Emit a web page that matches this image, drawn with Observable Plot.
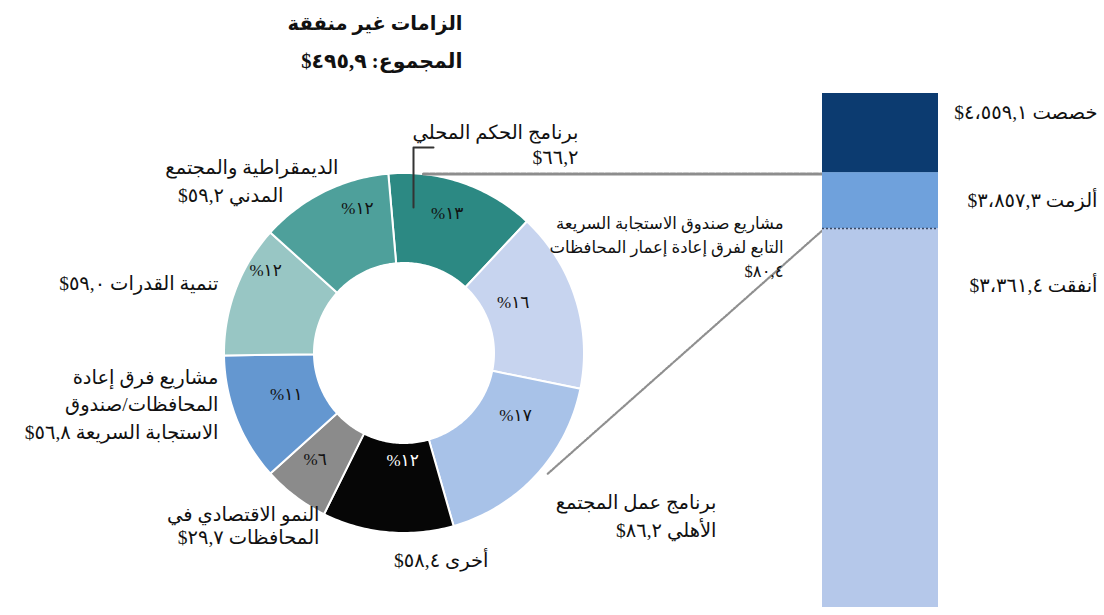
<!DOCTYPE html>
<html><head><meta charset="utf-8">
<script src="https://cdn.jsdelivr.net/npm/d3@7"></script>
<script src="https://cdn.jsdelivr.net/npm/@observablehq/plot@0.6"></script>
<style>
body{margin:0;background:#fff;}
#wrap{position:relative;width:1104px;height:615px;overflow:hidden;background:#fff;}
#wrap svg{position:absolute;left:0;top:0;}
</style></head><body><div id="wrap"></div>
<script>
// ---------- DATA ----------
const titleText = "الزامات غير منفقة";
const totalText = "المجموع:";
const categories = [
  "برنامج الحكم المحلي",
  "مشاريع صندوق الاستجابة السريعة\nالتابع لفرق إعادة إعمار المحافظات",
  "برنامج عمل المجتمع\nالأهلي",
  "أخرى",
  "النمو الاقتصادي في\nالمحافظات",
  "مشاريع فرق إعادة\nالمحافظات/صندوق\nالاستجابة السريعة",
  "تنمية القدرات",
  "الديمقراطية والمجتمع\nالمدني"
];
const values = [66.2, 80.4, 86.2, 58.4, 29.7, 56.8, 59.0, 59.2];
const stages = ["خصصت", "ألزمت", "أنفقت"];
const stageValues = [4559.1, 3857.3, 3361.4];

// ---------- STYLE / LAYOUT ----------
const W = 1104, H = 615;
const FONT = "'Liberation Serif', 'DejaVu Sans', serif";
const sliceColors = ["#2c8983", "#c7d4ef", "#a8c2e8", "#060606", "#8b8b8b", "#6497d0", "#98c6c4", "#4ea09b"];
const pctColors = ["#111", "#111", "#111", "#fff", "#111", "#111", "#111", "#111"];
const barColors = ["#b5c8ea", "#6fa1dc", "#0c3b70"];
const donut = {cx: 404, cy: 353, R: 180, r: 90, start: -5};
// each label: separator before the value, font size, and [rightEdgeX, centerY] for each line
const labelLayout = [
  {sep: "\n", size: 19.5, lines: [[578, 132], [578, 157]]},
  {sep: "\n", size: 16.5, lines: [[783, 223], [783, 247], [783, 271]]},
  {sep: " ",  size: 19.5, lines: [[716, 502], [716, 530]]},
  {sep: " ",  size: 19.5, lines: [[488, 560]]},
  {sep: " ",  size: 19.5, lines: [[319, 514], [319, 537]]},
  {sep: " ",  size: 19.5, lines: [[218, 377], [218, 404], [218, 432]]},
  {sep: " ",  size: 19.5, lines: [[218, 283]]},
  {sep: " ",  size: 19.5, lines: [[338, 167], [283, 195]]}
];
const pctLayout = [[17,146],[65,120],[119,127],[181,107],[220,139],[251,125],[301,162],[342,152]];
const leader = [[413,207],[413,147],[433,147]];

// ---------- HELPERS ----------
const AR = "٠١٢٣٤٥٦٧٨٩";
function arNum(n, dec = 1) {
  const s = n.toFixed(dec);
  let [i, d] = s.split(".");
  i = i.replace(/\B(?=(\d{3})+(?!\d))/g, "،");
  const out = d !== undefined ? i + "," + d : i;
  return out.replace(/\d/g, c => AR[+c]);
}
const rad = a => a * Math.PI / 180;

// ---------- DONUT GEOMETRY ----------
const total = d3.sum(values);
let acc = 0;
const slices = values.map((v, i) => {
  const a0 = donut.start + acc / total * 360; acc += v;
  const a1 = donut.start + acc / total * 360;
  return {i, v, a0, a1, pct: Math.round(v / total * 100)};
});
const arcPts = slices.flatMap(s => {
  const n = Math.max(2, Math.ceil(s.a1 - s.a0));
  return d3.range(n + 1).map(k => {
    const a = rad(s.a0 + (s.a1 - s.a0) * k / n);
    return {i: s.i,
      xo: donut.cx + donut.R * Math.sin(a), yo: donut.cy - donut.R * Math.cos(a),
      xi: donut.cx + donut.r * Math.sin(a), yi: donut.cy - donut.r * Math.cos(a)};
  });
});
const pctPts = slices.map(s => {
  const [a, rr] = pctLayout[s.i];
  return {x: donut.cx + rr * Math.sin(rad(a)), y: donut.cy - rr * Math.cos(rad(a)),
          t: arNum(s.pct, 0) + "%", c: pctColors[s.i]};
});
const labelLines = slices.flatMap(s => {
  const L = labelLayout[s.i];
  const txt = categories[s.i] + L.sep + arNum(s.v) + "$";
  return txt.split("\n").map((line, k) => ({t: line, x: L.lines[k][0], y: L.lines[k][1], size: L.size}));
});

// ---------- BAR PLOT ----------
const [alloc, comm, exp] = stageValues;
const segs = [
  {y1: 0, y2: exp, c: barColors[0]},
  {y1: exp, y2: comm, c: barColors[1]},
  {y1: comm, y2: alloc, c: barColors[2]}
];
const stageLabelY = [{y: alloc, dy: 19}, {y: (exp + comm) / 2, dy: 0}, {y: exp, dy: 57}];
const barPlot = Plot.plot({
  width: W, height: H,
  marginLeft: 822, marginRight: 166, marginTop: 93, marginBottom: 8,
  x: {type: "band", domain: ["bar"], padding: 0, axis: null},
  y: {domain: [0, alloc], axis: null},
  color: {type: "identity"},
  style: {background: "transparent", direction: "rtl", fontFamily: FONT},
  marks: [
    Plot.barY(segs, {x: () => "bar", y1: "y1", y2: "y2", fill: "c"}),
    Plot.ruleY([exp], {stroke: "#3a4a66", strokeWidth: 1.5, strokeDasharray: "2,2"}),
    ...stages.map((s, i) => Plot.text([s + " " + arNum(stageValues[i]) + "$"], {
      text: d => d, y: () => stageLabelY[i].y, frameAnchor: "right", dx: 159, dy: stageLabelY[i].dy,
      textAnchor: "start", fontSize: 19.5, fill: "#111"
    }))
  ]
});
const bx = barPlot.scale("x").apply("bar");
const yComm = barPlot.scale("y").apply(comm);
const yExp = barPlot.scale("y").apply(exp);

// connectors from donut to bar
const hY = yComm + 1.5;
const hX = donut.cx + Math.sqrt(donut.R ** 2 - (donut.cy - hY) ** 2);
const dA = rad(130), dR = donut.R + 7;
const connH = [{x: hX + 4, y: hY}, {x: bx, y: hY}];
const connD = [{x: donut.cx + dR * Math.sin(dA), y: donut.cy - dR * Math.cos(dA)}, {x: bx + 2, y: yExp}];

// ---------- DONUT PLOT ----------
const donutPlot = Plot.plot({
  width: W, height: H, margin: 0,
  x: {type: "identity", axis: null}, y: {type: "identity", axis: null},
  color: {type: "identity"},
  style: {background: "transparent", direction: "rtl", fontFamily: FONT},
  marks: [
    Plot.area(arcPts, {x1: "xi", y1: "yi", x2: "xo", y2: "yo", z: "i", fill: d => sliceColors[d.i], stroke: "white", strokeWidth: 2}),
    Plot.text(pctPts, {x: "x", y: "y", text: "t", fill: "c", fontSize: 17}),
    Plot.line(connH, {x: "x", y: "y", stroke: "#8d8d8d", strokeWidth: 3, strokeDasharray: "5,1.5"}),
    Plot.line(connD, {x: "x", y: "y", stroke: "#8f8f8f", strokeWidth: 2.2, strokeDasharray: "2,1.5"}),
    Plot.line(leader, {x: d => d[0], y: d => d[1], stroke: "#333", strokeWidth: 2}),
    Plot.text(labelLines, {x: "x", y: "y", text: "t", fontSize: "size", textAnchor: "start", fill: "#111"}),
    Plot.text([titleText], {text: d => d, x: () => 462, y: () => 23, textAnchor: "start", fontSize: 19.5, fontWeight: "bold", fill: "#111"}),
    Plot.text([totalText + " " + arNum(total) + "$"], {text: d => d, x: () => 462, y: () => 61, textAnchor: "start", fontSize: 20.5, fontWeight: "bold", fill: "#111"})
  ]
});

const wrap = document.getElementById("wrap");
wrap.appendChild(donutPlot);
wrap.appendChild(barPlot);
</script>
</body></html>
